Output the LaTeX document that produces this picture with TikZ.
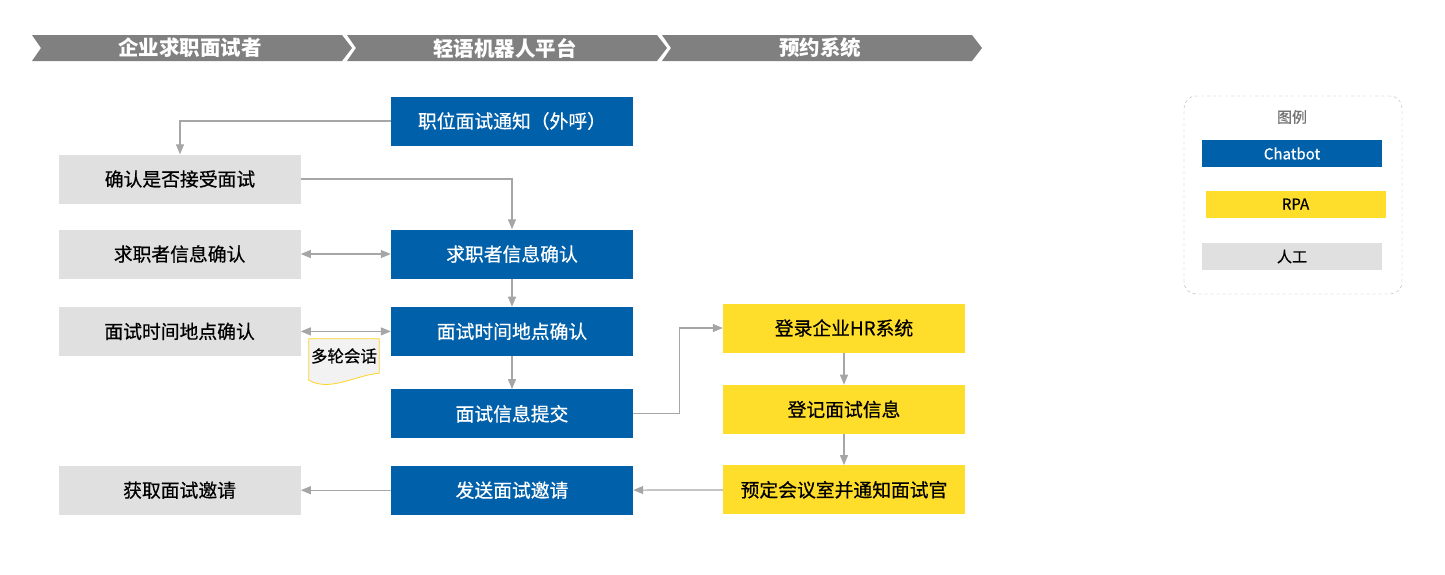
\documentclass[tikz,border=0pt]{standalone}
\usepackage{fontspec}
\setmainfont{Noto Sans CJK SC}
\newfontfamily\medfont{Noto Sans CJK SC}[FakeBold=0.6]
\usetikzlibrary{arrows.meta,positioning}
\definecolor{chatbot}{HTML}{0060AA}
\definecolor{robot}{HTML}{FFDD2B}
\definecolor{manual}{HTML}{E0E0E0}
\definecolor{header}{HTML}{808080}
\definecolor{link}{HTML}{A6A6A6}
\tikzset{box/.style={minimum width=242pt,minimum height=49pt,inner sep=0pt,align=center,font=\medfont\fontsize{18.8pt}{21pt}\selectfont},chat/.style={box,fill=chatbot,text=white},rpa/.style={box,fill=robot},human/.style={box,fill=manual},edge/.style={-{Triangle[length=10pt,width=8pt]},draw=link,line width=1.1pt},twoway/.style={edge,{Triangle[length=10pt,width=8pt]}-{Triangle[length=10pt,width=8pt]}},keybox/.style={minimum width=180pt,minimum height=27pt,inner sep=0pt,font=\medfont\fontsize{15pt}{17pt}\selectfont}}
\begin{document}
\begin{tikzpicture}[x=1pt,y=-1pt]
\useasboundingbox[fill=white] (0,0) rectangle (1445,574);
% swimlane header
\foreach \x/\t [count=\i] in {32/企业求职面试者,347/轻语机器人平台,662/预约系统}{\fill[header] (\x,35) -- ++(310,0) -- ++(10,13) -- ++(-10,13) -- ++(-310,0) -- ++(9,-13) -- cycle;\node[text=white,font=\bfseries\fontsize{20.5pt}{22pt}\selectfont] (head\i) at (\x+158,48) {\t};}
% flow
\node[chat] (notify) at (512,121) {职位面试通知（外呼）};\node[human] (accept) at (180,179) {确认是否接受面试};\node[chat] (info) at (512,254) {求职者信息确认};\node[human,left=90pt of info] (infoH) {求职者信息确认};
\node[chat,below=28pt of info] (time) {面试时间地点确认};\node[human,left=90pt of time] (timeH) {面试时间地点确认};\node[chat,below=33pt of time] (submit) {面试信息提交};\node[chat,below=27pt of submit] (send) {发送面试邀请};\node[human,left=90pt of send] (get) {获取面试邀请};
\node[rpa] (login) at (844,328) {登录企业HR系统};\node[rpa,below=32pt of login] (record) {登记面试信息};\node[rpa,below=31pt of record] (book) {预定会议室并通知面试官};
\node[minimum width=70pt,minimum height=34pt,inner sep=0pt] (talk) at (344,356) {};
\draw[draw=robot!90!orange,fill=black!5,line width=0.8pt] (talk.south west) -- (talk.north west) -- (talk.north east) -- (talk.south east) .. controls +(-24pt,-2pt) and +(21pt,-12pt) .. ([yshift=-7pt]talk.south west) -- cycle;\node[font=\medfont\fontsize{16.5pt}{18pt}\selectfont] (talkT) at (talk) {多轮会话};
\draw[edge] (notify.west) -| (accept.north);\draw[edge] (accept.east) -| (info.north);\draw[twoway] (infoH) -- (info);\draw[edge] (info) -- (time);\draw[twoway] (timeH) -- (time);\draw[edge] (time) -- (submit);
\draw[edge] (submit.east) -- ++(46,0) |- (login.west);\draw[edge] (login) -- (record);\draw[edge] (record) -- (book);\draw[edge] (book) -- (send);\draw[edge] (send) -- (get);
% legend
\node[draw=black!30,dashed,rounded corners=12pt,minimum width=218pt,minimum height=198pt] (legend) at (1293,195) {};\node[text=black!55,font=\medfont\fontsize{15pt}{17pt}\selectfont] (legendT) at (1292,117) {图例};
\node[keybox,fill=chatbot,text=white] (keyChat) at (1292,153.5) {Chatbot};\node[keybox,fill=robot] (keyRpa) at (1295.5,204) {RPA};\node[keybox,fill=manual] (keyHuman) at (1292,256.5) {人工};
\end{tikzpicture}
\end{document}
